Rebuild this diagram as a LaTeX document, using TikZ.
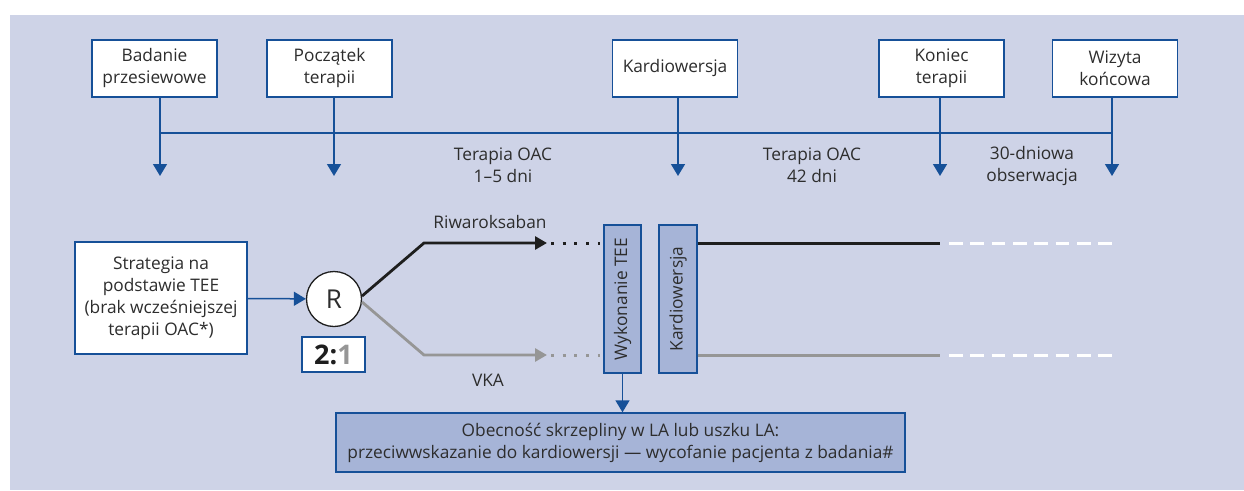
\documentclass[tikz,border=0pt]{standalone}
\usepackage{fontspec}
\setmainfont{Open Sans}
\usetikzlibrary{arrows.meta}

\definecolor{bgcol}{RGB}{206,211,231}
\definecolor{darkblue}{RGB}{22,80,152}
\definecolor{boxfill}{RGB}{166,180,215}
\definecolor{txtgray}{RGB}{45,45,45}
\definecolor{armgray}{RGB}{150,150,150}
\definecolor{armblack}{RGB}{30,30,30}

\tikzset{
	whitebox/.style={draw=darkblue, line width=1.4pt, fill=white, align=center, text=txtgray, inner sep=0pt},
	bluebox/.style={draw=darkblue, line width=1.4pt, fill=boxfill, align=center, text=txtgray, inner sep=0pt},
	tline/.style={draw=darkblue, line width=1.5pt},
	tarrow/.style={tline, -{Triangle[width=14pt,length=12pt]}},
	lbl/.style={align=center, text=txtgray},
}

\begin{document}
\begin{tikzpicture}[x=1pt,y=-1pt,font=\fontsize{17.3}{22}\selectfont]
	\useasboundingbox (0,0) rectangle (1244,490);
	\fill[white] (0,0) rectangle (1244,490);
	\fill[bgcol] (10,15) rectangle (1244,490);
	
	%Top Row of Boxes
	\foreach \x/\n/\txt in {154.5/1/{Badanie\\przesiewowe},329.5/2/{Początek\\terapii},675/3/{Kardiowersja},941.5/4/{Koniec\\terapii},1115/5/{Wizyta\\końcowa}}
	\node[whitebox, minimum width=125pt, minimum height=57pt] (b\n) at (\x,68.5) {\txt};
	
	%Timeline
	\coordinate (j1) at (160,133);
	\coordinate (j5) at (1112,133);
	\draw[tline] (j1) -- (j5);
	\foreach \x/\n in {160/1,334/2,678/3,940/4,1112/5}{
		\coordinate (t\n) at (\x,176);
		\draw[tarrow] (b\n.south -| t\n) -- (t\n);
	}
	\node[lbl] (oac1) at (503,165) {Terapia OAC\\1–5 dni};
	\node[lbl] (oac2) at (812,165) {Terapia OAC\\42 dni};
	\node[lbl] (obs) at (1032,166) {30-dniowa\\obserwacja};
	
	%Randomisation
	\node[whitebox, minimum width=172pt, minimum height=112pt] (strat) at (161,298) {Strategia na\\podstawie TEE\\(brak wcześniejszej\\terapii OAC*)};
	\node[circle, draw=armblack, line width=1.3pt, fill=white, minimum size=55pt, inner sep=0pt, text=txtgray, font=\fontsize{26}{30}\selectfont] (R) at (334,299) {R};
	\node[whitebox, minimum width=63pt, minimum height=35pt, text=armblack, font=\fontsize{27}{30}\selectfont\bfseries] (ratio) at (333.5,354.5) {2:\textcolor{armgray}{1}};
	\draw[tarrow] (strat) -- (R);
	
	%Study Arms
	\foreach \y/\c/\a/\n in {243/armblack/6/1,355/armgray/-6/2}{
		\coordinate (k\n) at (424,\y);
		\coordinate (a\n) at (547,\y);
		\coordinate (d\n) at (551,\y);
		\coordinate (e\n) at (600,\y);
		\draw[\c, line width=2.8pt, -{Triangle[width=13pt,length=12pt]}] (R.\a) -- (k\n) -- (a\n);
		\draw[\c, line width=3pt, dash pattern=on 3pt off 8.7pt] (d\n) -- (e\n);
	}
	\node[lbl] (riw) at (490,222) {Riwaroksaban};
	\node[lbl] (vka) at (488,380) {VKA};
	
	%TEE and Cardioversion
	\node[bluebox, rotate=90, minimum width=148pt, minimum height=37pt] (tee) at (622.5,299) {Wykonanie TEE};
	\node[bluebox, rotate=90, minimum width=148pt, minimum height=38pt] (kv) at (678,299) {Kardiowersja};
	\foreach \y/\c/\n in {243/armblack/1,355/armgray/2}{
		\coordinate (f\n) at (940,\y);
		\coordinate (g\n) at (949,\y);
		\coordinate (h\n) at (1112,\y);
		\draw[\c, line width=3pt] (kv.south |- f\n) -- (f\n);
		\draw[white, line width=3pt, dash pattern=on 13.7pt off 7.6pt] (g\n) -- (h\n);
	}
	
	%Exclusion
	\node[bluebox, minimum width=569pt, minimum height=59pt] (obec) at (620.5,442.5) {Obecność skrzepliny w LA lub uszku LA:\\przeciwwskazanie do kardiowersji — wycofanie pacjenta z badania\#};
	\draw[tarrow] (tee.west) -- (tee.west |- obec.north);
\end{tikzpicture}
\end{document}
